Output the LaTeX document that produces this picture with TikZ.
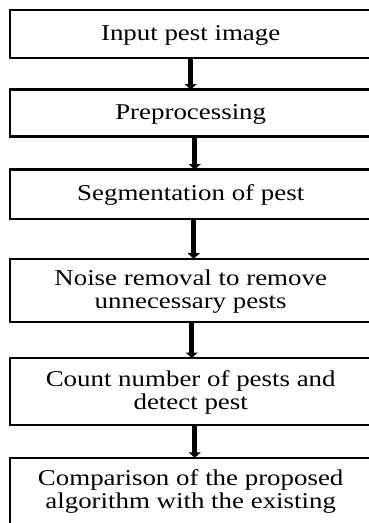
\documentclass[tikz,border=0pt]{standalone}
\usepackage{fontspec}
\setmainfont{Liberation Serif}[FakeStretch=1.19]
\usetikzlibrary{arrows.meta}
\newcommand{\lnst}{\rule[-3pt]{0pt}{21pt}}
\begin{document}
\begin{tikzpicture}[x=1pt,y=-1pt,
  stepbox/.style={draw=black, line width=2.4pt, rectangle, inner sep=0pt, outer sep=0pt,
    minimum width=362pt, anchor=north west, align=center,
    font=\fontsize{22.6pt}{23pt}\selectfont},
  flow/.style={line width=4.8pt, -{Triangle[width=12pt,length=5.5pt]}}]
\useasboundingbox (0,0) rectangle (369,523);
\clip (0,0) rectangle (369,523);
\node[stepbox, minimum height=48pt]   (n1) at (9.7,10)    {\lnst Input pest image};
\node[stepbox, minimum height=46.8pt] (n2) at (9.7,89.5)  {\lnst Preprocessing};
\node[stepbox, minimum height=49.2pt] (n3) at (9.7,169.5) {\lnst Segmentation of pest};
\node[stepbox, minimum height=63.3pt] (n4) at (9.7,258.7) {\lnst Noise removal to remove\\\lnst unnecessary pests};
\node[stepbox, minimum height=66.7pt] (n5) at (9.7,358)   {\lnst Count number of pests and\\\lnst detect pest};
\node[stepbox, minimum height=80pt]   (n6) at (9.7,457.8) {\lnst Comparison of the proposed\\\rule[-19.2pt]{0pt}{37.2pt}algorithm with the existing};
\draw[flow] ([xshift=0pt]n1.south) -- ([xshift=0pt]n2.north);
\draw[flow] ([xshift=4pt]n2.south) -- ([xshift=4pt]n3.north);
\draw[flow] ([xshift=3pt]n3.south) -- ([xshift=3pt]n4.north);
\draw[flow] ([xshift=1pt]n4.south) -- ([xshift=1pt]n5.north);
\draw[flow] ([xshift=4pt]n5.south) -- ([xshift=4pt]n6.north);
\end{tikzpicture}
\end{document}
